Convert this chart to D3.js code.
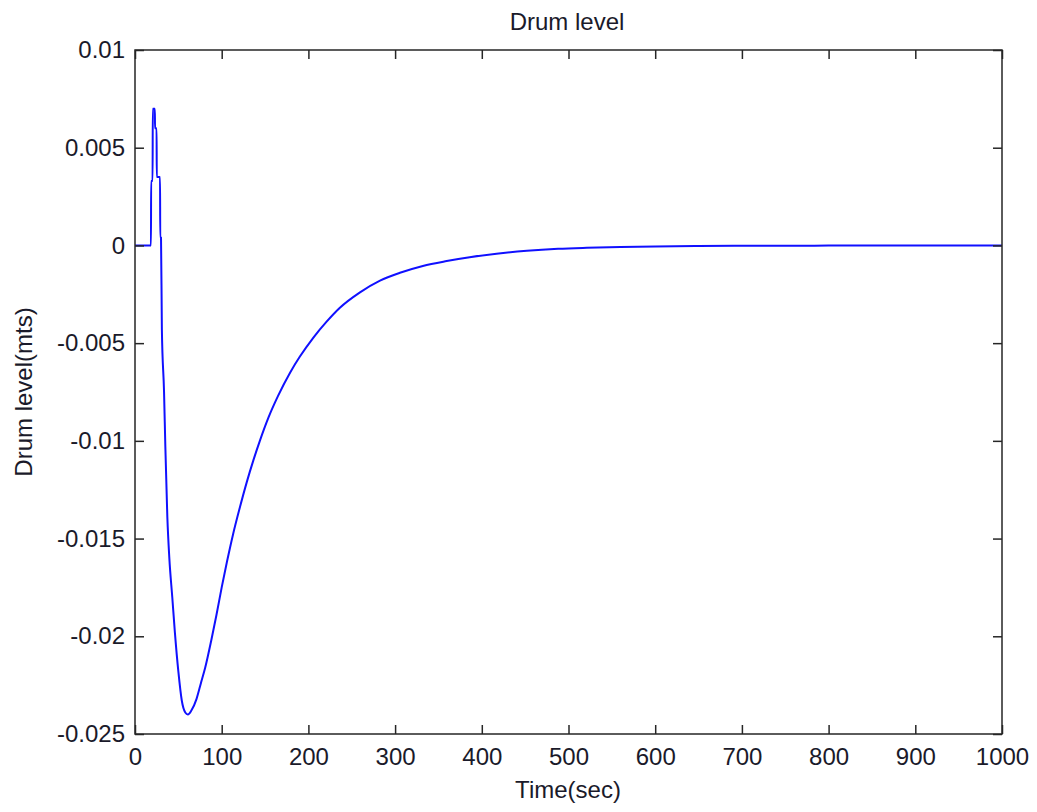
<!DOCTYPE html>
<html>
<head>
<meta charset="utf-8">
<script src="https://cdn.jsdelivr.net/npm/d3@7"></script>
<style>
  body { margin: 0; background: #fff; }
  text { font-family: "Liberation Sans", Arial, sans-serif; fill: #1a1a2a; }
</style>
</head>
<body>
<svg width="1037" height="812"></svg>
<script>
var timeSec = [0, 18.4, 18.6, 20.3, 20.5, 22.9, 23.1, 24.9, 25.1, 28.9, 29.1, 30, 31, 33.5, 35, 37.3, 39.6, 43, 46, 50, 54, 58, 61, 65, 71, 76, 81, 88, 94, 100,
  106, 113, 121, 129, 136.5, 144, 154, 165, 179, 190, 206, 221, 236, 259.5, 282.6, 305.6, 332, 359.5, 386, 417, 452, 488, 521, 560,
  600, 650, 700, 800, 900, 1000];
var drumLevel = [0, 0, 0.0033, 0.0033, 0.0070, 0.0070, 0.0060, 0.0060, 0.0035, 0.0035, 0.0004, 0.0004, -0.0043, -0.0075, -0.0103, -0.0139,
  -0.0160, -0.0180, -0.0198, -0.0218, -0.0233, -0.0239, -0.0240, -0.0238, -0.0232, -0.0224, -0.0216, -0.0202, -0.0189, -0.0175,
  -0.0162, -0.0148, -0.0134, -0.0121, -0.0110, -0.0100, -0.0088, -0.0077, -0.0065, -0.0057, -0.0047, -0.0039, -0.0032, -0.0024,
  -0.0018, -0.0014, -0.00105, -0.0008, -0.0006, -0.00042, -0.00027, -0.00017, -0.00012, -0.00008, -0.00005, -0.00003, -0.00002,
  -0.00001, 0, 0];
var xTicks = [0, 100, 200, 300, 400, 500, 600, 700, 800, 900, 1000];
var yTicks = [0.01, 0.005, 0, -0.005, -0.01, -0.015, -0.02, -0.025];
var yTickLabels = ["0.01", "0.005", "0", "-0.005", "-0.01", "-0.015", "-0.02", "-0.025"];

var svg = d3.select("svg");
var plotLeft = 135, plotRight = 1002, plotTop = 50, plotBottom = 734;
var w = plotRight - plotLeft, h = plotBottom - plotTop;

var x = d3.scaleLinear().domain([0, 1000]).range([0, w]);
var y = d3.scaleLinear().domain([-0.025, 0.01]).range([h, 0]);

var g = svg.append("g").attr("transform", "translate(" + plotLeft + "," + plotTop + ")");

g.append("path")
  .datum(d3.range(timeSec.length))
  .attr("fill", "none")
  .attr("stroke", "#1010ff")
  .attr("stroke-width", 2)
  .attr("stroke-linejoin", "round")
  .attr("d", d3.line().curve(d3.curveMonotoneX)
    .x(function(i){ return x(timeSec[i]); }).y(function(i){ return y(drumLevel[i]); }));

function styleAxis(a) {
  a.select(".domain").remove();
  a.selectAll(".tick line").attr("stroke", "#262626").attr("stroke-width", 1.5);
  a.selectAll(".tick text").style("font-size", "24px").attr("fill", "#1a1a2a");
}

g.append("g").attr("transform", "translate(0," + h + ")")
  .call(d3.axisBottom(x).tickValues(xTicks).tickSize(-9).tickPadding(14).tickFormat(d3.format("d")))
  .call(styleAxis);
g.append("g")
  .call(d3.axisTop(x).tickValues(xTicks).tickSize(-9).tickFormat(""))
  .call(styleAxis);
g.append("g")
  .call(d3.axisLeft(y).tickValues(yTicks).tickSize(-9).tickPadding(10)
    .tickFormat(function(d, i){ return yTickLabels[i]; }))
  .call(styleAxis);
g.append("g").attr("transform", "translate(" + w + ",0)")
  .call(d3.axisRight(y).tickValues(yTicks).tickSize(-9).tickFormat(""))
  .call(styleAxis);

g.append("rect")
  .attr("width", w).attr("height", h)
  .attr("fill", "none").attr("stroke", "#262626").attr("stroke-width", 1.5);

svg.append("text").attr("x", 567).attr("y", 30).attr("text-anchor", "middle")
  .style("font-size", "24px").text("Drum level");
svg.append("text").attr("x", 568).attr("y", 798).attr("text-anchor", "middle")
  .style("font-size", "24px").text("Time(sec)");
svg.append("text").attr("transform", "translate(32,392) rotate(-90)").attr("text-anchor", "middle")
  .style("font-size", "24px").text("Drum level(mts)");
</script>
</body>
</html>
